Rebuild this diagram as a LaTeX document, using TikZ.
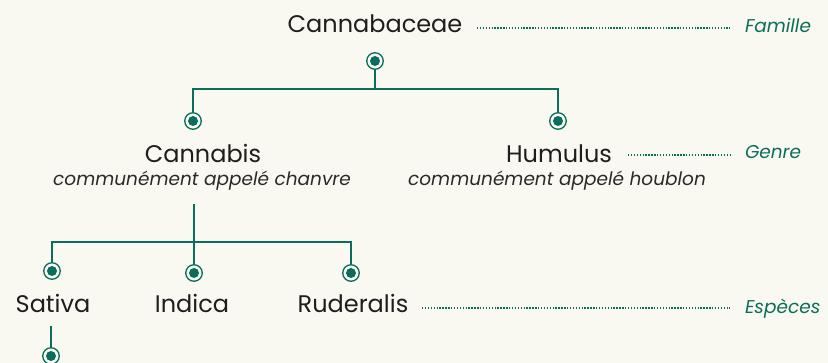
\documentclass[tikz,border=0pt]{standalone}
\usepackage{fontspec}
\setmainfont{Poppins}
\begin{document}
\begin{tikzpicture}[x=1pt,y=-1pt,
  every node/.style={inner sep=0pt,outer sep=0pt},
  taxon/.style={font=\fontsize{24}{27}\selectfont,text=ink,anchor=base},
  common/.style={font=\fontsize{18.5}{22}\selectfont\itshape,text=ink2,anchor=base},
  rank/.style={font=\fontsize{18.5}{22}\selectfont\itshape,text=teal0,anchor=base west},
  link/.style={draw=teal0,line width=2pt},
  guide/.style={draw=teal0,line width=1.4pt,dash pattern=on 1.4pt off 1.5pt},
  dotmark/.style={circle,draw=teal0,line width=1.3pt,fill=bg,minimum size=16.5pt,
    path picture={\fill[teal0] (path picture bounding box.center) circle (5pt);}}]
\definecolor{bg}{HTML}{FAF9F1}
\definecolor{teal0}{HTML}{0B6E5C}
\definecolor{ink}{HTML}{1E1E1E}
\definecolor{ink2}{HTML}{2A2A2A}
\fill[bg] (0,0) rectangle (828,363);
\useasboundingbox (0,0) rectangle (828,363);
% texts
\node[taxon] (fam) at (375,33) {Cannabaceae};
\node[rank] (famr) at (745,33) {Famille};
\node[taxon] (can) at (203,163) {Cannabis};
\node[common] (canc) at (202,186) {communément appelé chanvre};
\node[taxon] (hum) at (559,163) {Humulus};
\node[common] (humc) at (557,186) {communément appelé houblon};
\node[rank] (genr) at (745,159) {Genre};
\node[taxon] (sat) at (53,313) {Sativa};
\node[taxon] (ind) at (192,313) {Indica};
\node[taxon] (rud) at (353,313) {Ruderalis};
\node[rank] (espr) at (745,314) {Espèces};
% markers
\node[dotmark] (m0) at (375,61) {};
\node[dotmark] (m1) at (193,121) {};
\node[dotmark] (m2) at (558,121) {};
\node[dotmark] (m3) at (52,271) {};
\node[dotmark] (m4) at (194,273) {};
\node[dotmark] (m5) at (351,273) {};
\node[dotmark] (m6) at (51,356) {};
\coordinate (j0) at (375,89);
\coordinate (j1) at (194,242);
\coordinate (ctop) at (194,204);
\coordinate (stop) at (51,326);
% connectors
\draw[link] (m0.south) -- (j0);
\draw[link] (j0) -| (m1.north);
\draw[link] (j0) -| (m2.north);
\draw[link] (ctop) -- (m4.north);
\draw[link] (j1) -| (m3.north);
\draw[link] (j1) -| (m5.north);
\draw[link] (stop) -- (m6.north);
% guides
\coordinate (g1) at (477,28);
\coordinate (g2) at (628,155);
\coordinate (g3) at (422,308);
\draw[guide] (g1) -- ([xshift=-15pt]g1 -| famr.west);
\draw[guide] (g2) -- ([xshift=-15pt]g2 -| genr.west);
\draw[guide] (g3) -- ([xshift=-15pt]g3 -| espr.west);
\end{tikzpicture}
\end{document}
